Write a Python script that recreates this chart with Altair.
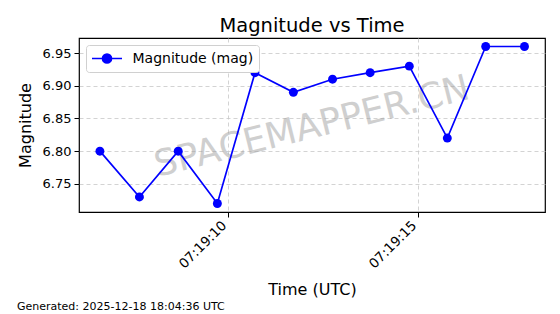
import altair as alt
import pandas as pd

# --- data ---
times = ["2025-12-18T07:19:06.63Z", "2025-12-18T07:19:07.67Z", "2025-12-18T07:19:08.69Z",
         "2025-12-18T07:19:09.72Z", "2025-12-18T07:19:10.71Z", "2025-12-18T07:19:11.72Z",
         "2025-12-18T07:19:12.75Z", "2025-12-18T07:19:13.74Z", "2025-12-18T07:19:14.77Z",
         "2025-12-18T07:19:15.77Z", "2025-12-18T07:19:16.78Z", "2025-12-18T07:19:17.80Z"]
mags = [6.80, 6.73, 6.80, 6.72, 6.92, 6.89, 6.91, 6.92, 6.93, 6.82, 6.96, 6.96]
series_name = "Magnitude (mag)"
y_ticks = [6.75, 6.80, 6.85, 6.90, 6.95]
x_domain = ["2025-12-18T07:19:06.08Z", "2025-12-18T07:19:18.34Z"]
y_domain = [6.707, 6.973]
title_text = "Magnitude vs Time"
footer_text = "Generated: 2025-12-18 18:04:36 UTC"
watermark_text = "SPACEMAPPER.CN"

df = pd.DataFrame({"time": times, "mag": mags, "series": [series_name] * len(mags)})

FONT = "DejaVu Sans"
W, H = 466, 174

x_ticks = [alt.DateTime(year=2025, month=12, date=18, hours=7, minutes=19, seconds=s, utc=True)
           for s in (10, 15)]

legend_path = "M-2,0L2,0M-0.6,0a0.6,0.6 0 1,0 1.2,0a0.6,0.6 0 1,0 -1.2,0Z"

line = alt.Chart(df).mark_line(
    point=alt.OverlayMarkDef(filled=True, size=80, opacity=1), strokeWidth=1.7
).encode(
    x=alt.X("time:T", scale=alt.Scale(type="utc", domain=x_domain, nice=False),
            axis=alt.Axis(values=x_ticks,
                          labelExpr="utcFormat(datum.value, '%H:%M:%S')",
                          labelAngle=315, labelAlign="right", labelBaseline="middle",
                          labelOffset=-4, labelPadding=6, labelFontSize=13.5,
                          labelOverlap=False, labelFlush=False, labelLimit=300,
                          labelBound=False,
                          title="Time (UTC)", titleY=77, titleBaseline="middle")),
    y=alt.Y("mag:Q", scale=alt.Scale(domain=y_domain, nice=False, zero=False),
            axis=alt.Axis(values=y_ticks, format=".2f", title="Magnitude",
                          titleX=-54, titleBaseline="middle")),
    color=alt.Color("series:N", scale=alt.Scale(domain=[series_name], range=["#0000ff"]),
                    legend=alt.Legend(title=None, orient="none", legendX=7, legendY=7,
                                      symbolType=legend_path, symbolSize=225,
                                      symbolOffset=7.5,
                                      symbolFillColor="#0000ff", symbolStrokeWidth=1.7,
                                      labelFontSize=14, labelFont=FONT, labelOffset=17,
                                      fillColor="white", strokeColor="#d0d0d0",
                                      cornerRadius=3, padding=5)),
)

wm = alt.Chart(pd.DataFrame({"t": [watermark_text]})).mark_text(
    font=FONT, fontSize=36, color="#a0a0a0", opacity=0.5, angle=346,
    align="center", baseline="middle"
).encode(text="t:N", x=alt.value(233), y=alt.value(89))

footer = alt.Chart(pd.DataFrame({"t": [footer_text]})).mark_text(
    font=FONT, fontSize=11, color="black", align="left", baseline="middle"
).encode(text="t:N", x=alt.value(-62), y=alt.value(269))

chart = alt.layer(wm, line, footer).properties(
    width=W, height=H,
    title=alt.TitleParams(title_text, fontSize=19.5, font=FONT, fontWeight="normal",
                          anchor="middle", color="black", offset=2),
    autosize=alt.AutoSizeParams(type="none"),
    padding={"left": 79, "top": 38, "right": 15, "bottom": 102},
).configure(background="white").configure_view(
    stroke="black", strokeWidth=1.2
).configure_axis(
    labelFont=FONT, labelFontSize=13, labelColor="black",
    titleFont=FONT, titleFontSize=16, titleFontWeight="normal", titleColor="black",
    grid=True, gridColor="#c8c8c8", gridDash=[4, 3], gridWidth=0.8,
    domain=False, tickColor="black", tickSize=5, labelPadding=3,
)

chart.save("out.html", embed_options={"renderer": "svg", "actions": False})
